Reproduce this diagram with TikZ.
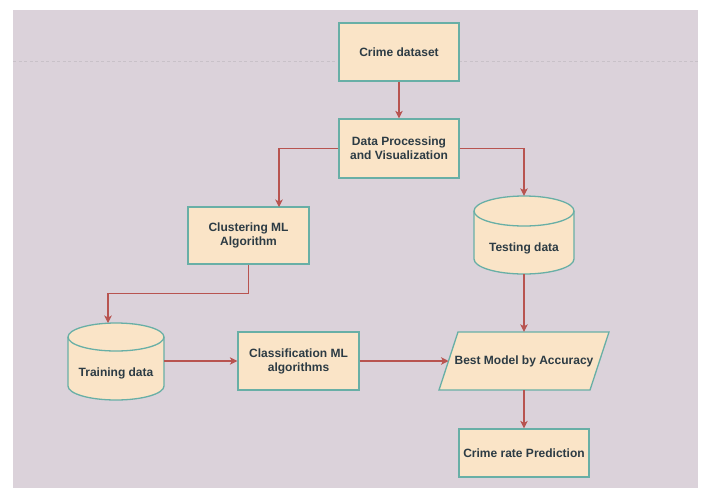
\documentclass[tikz,border=0pt]{standalone}
\usepackage{fontspec}
\setmainfont{Liberation Sans}
\usetikzlibrary{arrows.meta,calc}
\definecolor{panel}{HTML}{DBD2DA}
\definecolor{boxfill}{HTML}{FAE4C7}
\definecolor{boxline}{HTML}{68AFA6}
\definecolor{arrowc}{HTML}{B85450}
\definecolor{txt}{HTML}{2C3B44}
\definecolor{dashc}{HTML}{C8C1C8}
\tikzset{
  stepbox/.style={draw=boxline, fill=boxfill, line width=1.3pt, rectangle, inner sep=0pt},
  shapeline/.style={draw=boxline, fill=boxfill, line width=1.3pt},
  lbl/.style={text=txt, font=\fontsize{12}{14}\selectfont\bfseries, align=center},
  ghost/.style={rectangle, inner sep=0pt, draw=none},
  arr/.style={draw=arrowc, line width=1.1pt, -{Stealth[length=7.5pt,width=7.5pt,inset=2pt]}},
}
\begin{document}
\begin{tikzpicture}[x=1pt,y=-1pt]
\useasboundingbox (0,0) rectangle (703,488);
\fill[white] (0,0) rectangle (703,488);
\fill[panel] (13,10) rectangle (698,488);
\draw[dashc, line width=0.9pt, dash pattern=on 3pt off 2.5pt] (13,61) -- (698,61);

% boxes
\node[stepbox, lbl, minimum width=120pt, minimum height=58pt] (cd) at (399,52) {Crime dataset};
\node[stepbox, lbl, minimum width=120pt, minimum height=59pt] (dp) at (399,148.5) {Data Processing\\and Visualization};
\node[stepbox, lbl, minimum width=121pt, minimum height=57pt] (cl) at (248.5,235.5) {Clustering ML\\Algorithm};
\node[stepbox, lbl, minimum width=121pt, minimum height=58pt] (cls) at (298.5,361) {Classification ML\\algorithms};
\node[stepbox, lbl, minimum width=130pt, minimum height=48pt] (crp) at (524,453) {Crime rate Prediction};

% testing cylinder (x 474-574, y 196-274)
\path[shapeline] (474,211) -- (474,259) arc[start angle=180, end angle=360, x radius=50, y radius=-15] -- (574,211) arc[start angle=0, end angle=180, x radius=50, y radius=-15] -- cycle;
\draw[boxline, line width=1.3pt] (474,211) arc[start angle=180, end angle=360, x radius=50, y radius=-15];
\node[ghost, minimum width=100pt, minimum height=78pt] (test) at (524,235) {};
\node[lbl] (testlbl) at (524,248) {Testing data};

% training cylinder (x 68-164, y 323-400)
\path[shapeline] (68,337) -- (68,386) arc[start angle=180, end angle=360, x radius=48, y radius=-14] -- (164,337) arc[start angle=0, end angle=180, x radius=48, y radius=-14] -- cycle;
\draw[boxline, line width=1.3pt] (68,337) arc[start angle=180, end angle=360, x radius=48, y radius=-14];
\node[ghost, minimum width=96pt, minimum height=77pt] (train) at (116,361.5) {};
\node[lbl] (trainlbl) at (116,373) {Training data};

% best model parallelogram
\path[shapeline] (439,390) -- (458,332) -- (609,332) -- (590,390) -- cycle;
\node[ghost, minimum width=170pt, minimum height=58pt] (bm) at (524,361) {};
\node[lbl] (bmlbl) at (524,361) {Best Model by Accuracy};
\coordinate (bmL) at (448.5,361);

% connector helper coordinates
\coordinate (clin) at (279,207);
\coordinate (trin) at (108,323);

% connectors
\draw[arr] (cd.south) -- (dp.north);
\draw[arr] (dp.west) -| (clin);
\draw[arr] (dp.east) -| (test.north);
\draw[arr] (cl.south) -- ++(0,29) -| (trin);
\draw[arr] (train.east |- cls.west) -- (cls.west);
\draw[arr] (cls.east) -- (bmL);
\draw[arr] (test.south) -- (bm.north);
\draw[arr] (bm.south) -- (crp.north);
\end{tikzpicture}
\end{document}
